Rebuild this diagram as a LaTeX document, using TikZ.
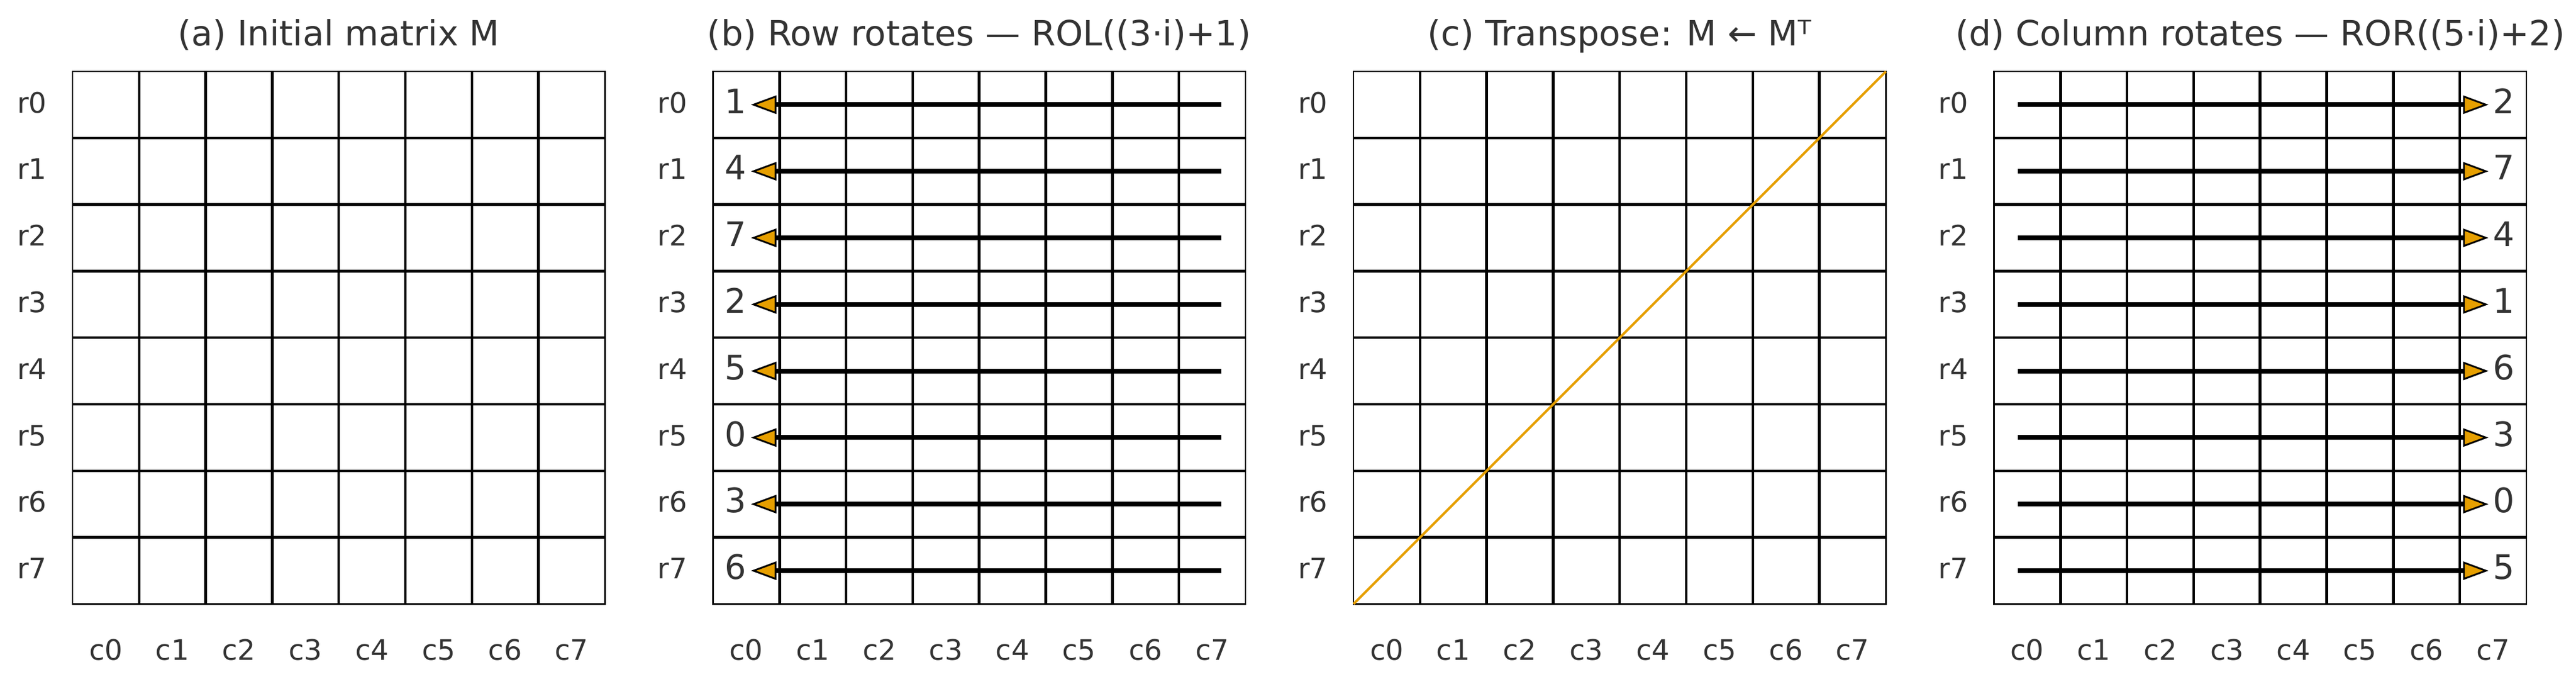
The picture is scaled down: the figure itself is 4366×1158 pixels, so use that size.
\documentclass[tikz,border=0pt]{standalone}
\usepackage{fontspec}
\setmainfont{DejaVu Sans}
\usetikzlibrary{arrows.meta}
\definecolor{myorange}{HTML}{E69F00}
\definecolor{txt}{HTML}{333333}
\tikzset{
  gridline/.style={line width=0.45mm, black},
  frameline/.style={line width=0.25mm, black},
  paneltitle/.style={font=\fontsize{16.8}{20}\selectfont, text=txt, anchor=base, inner sep=0pt},
  ticklab/.style={font=\fontsize{13.6}{16}\selectfont, text=txt, inner sep=0pt},
  numlab/.style={font=\fontsize{16.3}{19}\selectfont, text=txt, anchor=base, inner sep=0pt},
  rotarrow/.style={line width=0.8mm, -{Triangle[length=4.3mm, width=3.1mm, fill=myorange, line width=0.3mm]}},
  diagline/.style={line width=0.4mm, myorange},
}
\begin{document}
\begin{tikzpicture}[x=0.1mm,y=-0.1mm]
\useasboundingbox (0,0) rectangle (4366,1158);
\def\cs{112.8}
\def\gt{121}
\def\gb{1023.4}
\foreach \p/\L/\T in {a/123/{(a) Initial matrix M},
                      b/1208.5/{(b) Row rotates — ROL((3·i)+1)},
                      c/2294/{(c) Transpose: M ← Mᵀ},
                      d/3379.5/{(d) Column rotates — ROR((5·i)+2)}}{
  \node[paneltitle] (title\p) at (\L+451.2, 77) {\T};
  \foreach \k in {1,...,7}{
    \draw[gridline] (\L+\k*\cs,\gt) -- (\L+\k*\cs,\gb);
    \draw[gridline] (\L,\gt+\k*\cs) -- (\L+902.4,\gt+\k*\cs);
  }
  \draw[frameline] (\L,\gt) rectangle (\L+902.4,\gb);
  \foreach \r in {0,...,7}{
    \node[ticklab, anchor=base east] (rl\p\r) at (\L-43, \gt+\r*\cs+56.4+13.6) {r\r};
    \node[ticklab, anchor=base] (cl\p\r) at (\L+\r*\cs+56.4, 1118) {c\r};
  }
}
% panel (b): row rotates left
\foreach \r/\v in {0/1,1/4,2/7,3/2,4/5,5/0,6/3,7/6}{
  \coordinate (bs\r) at (1208.5+7.64*\cs, \gt+\r*\cs+56.4);
  \coordinate (be\r) at (1208.5+0.57*\cs, \gt+\r*\cs+56.4);
  \draw[rotarrow] (bs\r) -- (be\r);
  \node[numlab] (bn\r) at (1208.5+0.34*\cs, \gt+\r*\cs+56.4+14.6) {\v};
}
% panel (c): diagonal
\coordinate (cbl) at (2294,\gb);
\coordinate (ctr) at (3196.4,\gt);
\draw[diagline] (cbl) -- (ctr);
% panel (d): column rotates right
\foreach \r/\v in {0/2,1/7,2/4,3/1,4/6,5/3,6/0,7/5}{
  \coordinate (ds\r) at (3379.5+0.36*\cs, \gt+\r*\cs+56.4);
  \coordinate (de\r) at (3379.5+7.43*\cs, \gt+\r*\cs+56.4);
  \draw[rotarrow] (ds\r) -- (de\r);
  \node[numlab] (dn\r) at (3379.5+7.66*\cs, \gt+\r*\cs+56.4+14.6) {\v};
}
\end{tikzpicture}
\end{document}
